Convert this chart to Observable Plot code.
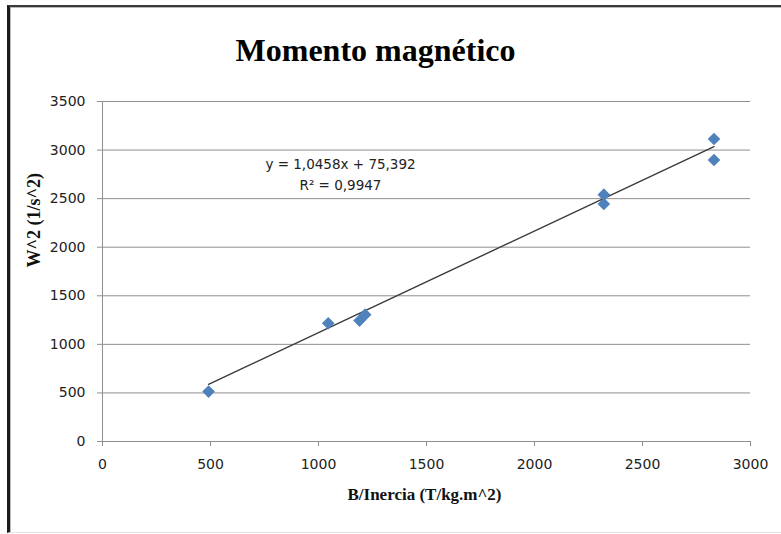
<!DOCTYPE html>
<html>
<head>
<meta charset="utf-8">
<script src="https://cdn.jsdelivr.net/npm/d3@7"></script>
<script src="https://cdn.jsdelivr.net/npm/@observablehq/plot@0.6"></script>
<style>
  html, body { margin: 0; padding: 0; background: #fff; }
  #wrap { position: relative; width: 781px; height: 534px; overflow: hidden; }
  #frame {
    position: absolute; left: 7px; top: 5px; right: -5px; bottom: 1px;
    border-left: 3px solid #1c1c1c; border-top: 2px solid #3a3a3a;
    border-bottom: 1px solid #e2e2e2;
    box-shadow: inset 1px 1px 0 #b8b8b8;
    pointer-events: none;
  }
</style>
</head>
<body>
<div id="wrap"><div id="frame"></div></div>
<script>
// ---- data ----
const chartTitle = "Momento magnético";
const xLabel = "B/Inercia (T/kg.m^2)";
const yLabel = "W^2 (1/s^2)";
const xTicks = [0, 500, 1000, 1500, 2000, 2500, 3000];
const yTicks = [0, 500, 1000, 1500, 2000, 2500, 3000, 3500];
const bInercia = [491, 1045, 1190, 1216, 2321, 2321, 2831, 2831];
const w2 = [514, 1217, 1245, 1306, 2541, 2445, 3114, 2898];
const slope = 1.0458;
const intercept = 75.392;
const equationText = "y = 1,0458x + 75,392";
const r2Text = "R² = 0,9947";

const points = bInercia.map((b, i) => ({b, w: w2[i]}));
const trendX = [d3.min(bInercia), d3.max(bInercia)];

const gridColor = "#8f8f8f";
const serif = "'Liberation Serif', 'Times New Roman', serif";
const sans = "'DejaVu Sans', sans-serif";

const chart = Plot.plot({
  width: 781,
  height: 534,
  marginLeft: 102,
  marginRight: 31,
  marginTop: 101,
  marginBottom: 93,
  style: {fontFamily: sans, fontSize: "14px", color: "#222", background: "transparent", overflow: "visible"},
  x: {domain: [0, 3000]},
  y: {domain: [0, 3500]},
  marks: [
    Plot.ruleY(yTicks, {stroke: gridColor, strokeWidth: 1}),
    Plot.ruleX([0], {stroke: gridColor, strokeWidth: 1}),
    Plot.axisY({ticks: yTicks, tickSize: 5, tickPadding: 12, stroke: gridColor, fill: "#222",
      fontSize: 14, tickFormat: d => String(d), label: null}),
    Plot.axisX({ticks: xTicks, tickSize: 5, tickPadding: 13, stroke: gridColor, fill: "#222",
      fontSize: 14, tickFormat: d => String(d), label: null}),
    Plot.line(trendX, {x: d => d, y: d => slope * d + intercept, stroke: "#3a3a3a", strokeWidth: 1.4}),
    Plot.dot(points, {x: "b", y: "w", symbol: "diamond2", r: 5.7, fill: "#4F81BD", stroke: "none"}),
    Plot.text([equationText], {frameAnchor: "top-left", dx: 238, dy: 63, lineAnchor: "middle",
      textAnchor: "middle", fontSize: 13.5, fontFamily: sans, fill: "#222"}),
    Plot.text([r2Text], {frameAnchor: "top-left", dx: 238, dy: 84, lineAnchor: "middle",
      textAnchor: "middle", fontSize: 13.5, fontFamily: sans, fill: "#222"}),
    Plot.text([chartTitle], {frameAnchor: "top", dx: -51, dy: -51, lineAnchor: "middle",
      fontSize: 32, fontWeight: "bold", fontFamily: serif, fill: "#000"}),
    Plot.text([xLabel], {frameAnchor: "bottom", dx: -2, dy: 53, lineAnchor: "middle",
      fontSize: 17, fontWeight: "bold", fontFamily: serif, fill: "#111"}),
    Plot.text([yLabel], {frameAnchor: "left", dx: -68, dy: -4, rotate: -90, lineAnchor: "middle",
      fontSize: 18, fontWeight: "bold", fontFamily: serif, fill: "#111"})
  ]
});
chart.style.position = "absolute";
chart.style.left = "0px";
chart.style.top = "0px";
document.getElementById("wrap").prepend(chart);
</script>
</body>
</html>
